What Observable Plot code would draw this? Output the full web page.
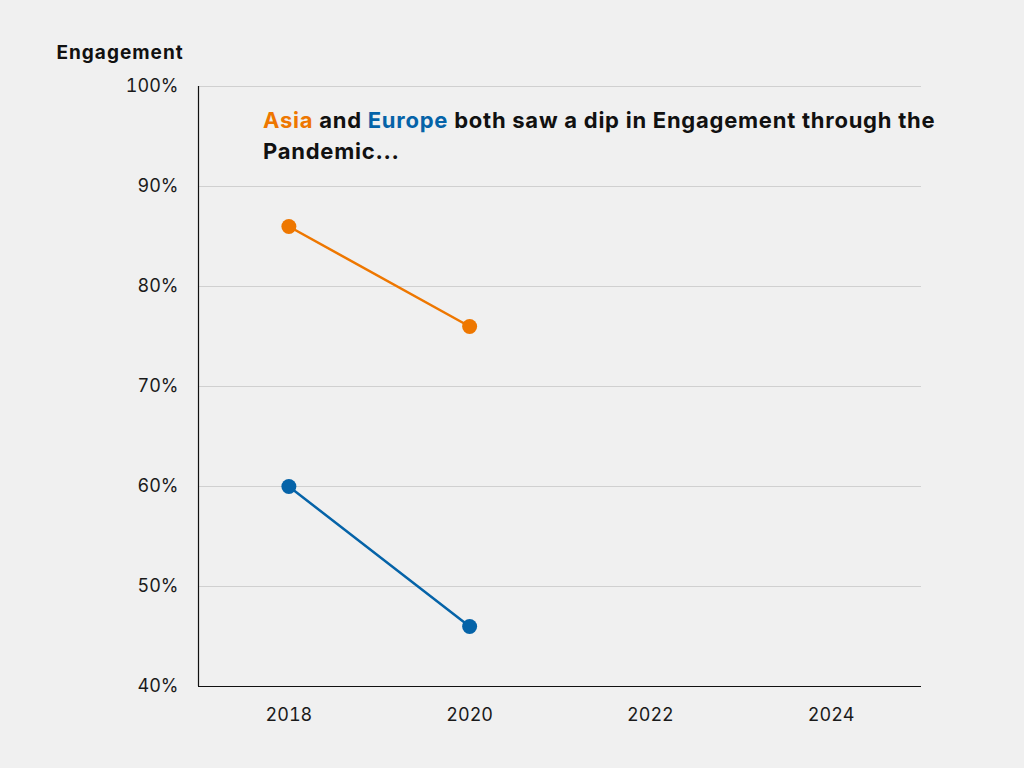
<!DOCTYPE html>
<html>
<head>
<meta charset="utf-8">
<script src="https://cdn.jsdelivr.net/npm/d3@7"></script>
<script src="https://cdn.jsdelivr.net/npm/@observablehq/plot@0.6"></script>
<style>
  html, body { margin: 0; padding: 0; background: #f0f0f0; }
  #wrap { position: relative; width: 1024px; height: 768px; font-family: Inter, "Noto Sans", sans-serif; }
  #note { position: absolute; left: 263px; top: 105px; font-size: 22px; font-weight: 700; line-height: 31px; color: #111; letter-spacing: 0.75px; white-space: nowrap; }
  .ylab { letter-spacing: 1px; }
</style>
</head>
<body>
<div id="wrap">
  <div id="chart"></div>
  <div id="note"><span style="color:#EE7700">Asia</span> and <span style="color:#0563A8">Europe</span> both saw a dip in Engagement through the<br>Pandemic...</div>
</div>
<script>
const years = [2018, 2020];
const asia = [0.86, 0.76];
const europe = [0.60, 0.46];
const xTicks = [2018, 2020, 2022, 2024];
const yTicks = [0.4, 0.5, 0.6, 0.7, 0.8, 0.9, 1.0];
const regions = ["Asia", "Europe"];
const colors = ["#EE7700", "#0563A8"];

const data = [
  ...years.map((y, i) => ({year: y, value: asia[i], region: "Asia"})),
  ...years.map((y, i) => ({year: y, value: europe[i], region: "Europe"}))
];

const chart = Plot.plot({
  width: 1024,
  height: 768,
  marginLeft: 198,
  marginRight: 103,
  marginTop: 86,
  marginBottom: 82,
  style: {background: "#f0f0f0", fontFamily: "Inter, 'Noto Sans', sans-serif", fontSize: "18px", color: "#1a1a1a"},
  x: {domain: [2017, 2025], ticks: xTicks, tickFormat: d => String(d), label: null, tickSize: 0, tickPadding: 22},
  y: {domain: [0.4, 1.0], ticks: yTicks, tickFormat: d => Math.round(d * 100) + "%", label: null, tickSize: 0, tickPadding: 20},
  color: {domain: regions, range: colors},
  marks: [
    Plot.gridY(yTicks, {stroke: "#d0d0d0", strokeOpacity: 1, strokeWidth: 1}),
    Plot.axisX({ticks: xTicks, tickFormat: d => String(d), tickSize: 0, tickPadding: 22, fontSize: 18, label: null}),
    Plot.axisY({ticks: yTicks, tickFormat: d => Math.round(d * 100) + "%", tickSize: 0, tickPadding: 20, fontSize: 18, label: null}),
    Plot.ruleX([2017], {stroke: "#111", strokeWidth: 1.2}),
    Plot.ruleY([0.4], {stroke: "#111", strokeWidth: 1.2}),
    Plot.line(data, {x: "year", y: "value", z: "region", stroke: "region", strokeWidth: 2.5}),
    Plot.dot(data, {x: "year", y: "value", fill: "region", r: 7.5}),
    Plot.text(["Engagement"], {frameAnchor: "top-left", dx: -142, dy: -41, text: d => d, fontWeight: 700, fontSize: 19, textAnchor: "start", fill: "#111", className: "ylab"})
  ]
});
document.getElementById("chart").appendChild(chart);
</script>
</body>
</html>
